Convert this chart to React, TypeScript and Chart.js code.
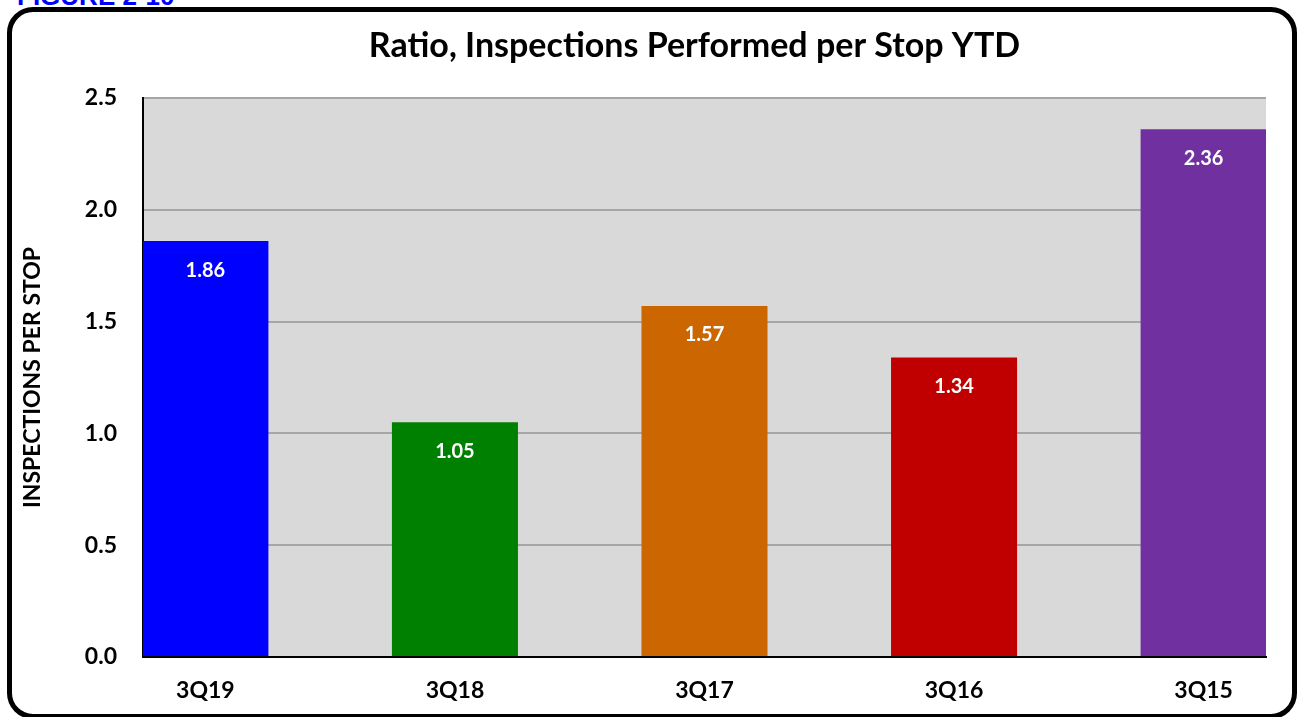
import React, { useEffect, useRef } from "react";
import { Chart, registerables } from "chart.js";

Chart.register(...registerables);

const categories = ["3Q19", "3Q18", "3Q17", "3Q16", "3Q15"];
const values = [1.86, 1.05, 1.57, 1.34, 2.36];
const barColors = ["#0000FF", "#008000", "#CC6600", "#C00000", "#7030A0"];
const yTickValues = [0, 0.5, 1.0, 1.5, 2.0, 2.5];
const chartTitle = "Ratio, Inspections Performed per Stop YTD";
const yAxisTitle = "INSPECTIONS PER STOP";
const figureLabel = "FIGURE 2-10";

const FONT = "Lato, 'Open Sans', sans-serif";

const plotBackground = {
  id: "plotBackground",
  beforeDraw(chart: any) {
    const { ctx, chartArea } = chart;
    ctx.save();
    ctx.fillStyle = "#D9D9D9";
    ctx.fillRect(chartArea.left, chartArea.top, chartArea.right - chartArea.left, chartArea.bottom - chartArea.top);
    ctx.restore();
  },
};

const chartTitlePlugin = {
  id: "chartTitlePlugin",
  afterDraw(chart: any) {
    const { ctx, chartArea } = chart;
    ctx.save();
    ctx.fillStyle = "#000000";
    ctx.font = `bold 34px ${FONT}`;
    ctx.textAlign = "center";
    ctx.textBaseline = "middle";
    ctx.fillText(chartTitle, (chartArea.left + chartArea.right) / 2 - 10, 46);
    ctx.restore();
  },
};

const barValueLabels = {
  id: "barValueLabels",
  afterDatasetsDraw(chart: any) {
    const { ctx } = chart;
    const meta = chart.getDatasetMeta(0);
    ctx.save();
    ctx.fillStyle = "#FFFFFF";
    ctx.font = `bold 20px ${FONT}`;
    ctx.textAlign = "center";
    ctx.textBaseline = "middle";
    meta.data.forEach((bar: any, i: number) => {
      ctx.fillText(values[i].toFixed(2), bar.x, bar.y + 29);
    });
    ctx.restore();
  },
};

export default function App() {
  const canvasRef = useRef<HTMLCanvasElement | null>(null);

  useEffect(() => {
    if (!canvasRef.current) return;
    const chart = new Chart(canvasRef.current, {
      type: "bar",
      data: {
        datasets: [
          {
            data: values.map((v, i) => ({ x: i, y: v })),
            backgroundColor: barColors,
            borderWidth: 0,
            barPercentage: 0.505,
            categoryPercentage: 1,
          },
        ],
      },
      options: {
        animation: false,
        responsive: false,
        layout: { padding: { left: 0, right: 33, top: 98, bottom: 0 } },
        plugins: {
          legend: { display: false },
          tooltip: { enabled: false },
          title: { display: false },
        },
        scales: {
          x: {
            type: "linear",
            offset: false,
            min: -0.25,
            max: 4.25,
            afterBuildTicks(scale: any) {
              scale.ticks = categories.map((_, i) => ({ value: i }));
            },
            afterFit(scale: any) {
              scale.height = 60;
            },
            grid: { display: false, drawTicks: false, offset: false },
            border: { display: true, color: "#000000", width: 2 },
            ticks: {
              autoSkip: false,
              maxRotation: 0,
              padding: 20,
              color: "#000000",
              font: { family: FONT, size: 23, weight: "bold" },
              callback: (v: any) => categories[v as number] ?? "",
            },
          },
          y: {
            min: 0,
            max: 2.5,
            afterBuildTicks(scale: any) {
              scale.ticks = yTickValues.map((v) => ({ value: v }));
            },
            afterFit(scale: any) {
              scale.width = 143;
            },
            grid: { color: "#A6A6A6", lineWidth: 2, drawTicks: false },
            border: { display: true, color: "#000000", width: 2 },
            ticks: {
              padding: 26,
              color: "#000000",
              font: { family: FONT, size: 23, weight: "bold" },
              callback: (v: any) => Number(v).toFixed(1),
            },
            title: {
              display: true,
              text: yAxisTitle,
              color: "#000000",
              font: { family: FONT, size: 23, weight: "bold" },
              padding: { top: 19, bottom: 0 },
            },
          },
        },
      },
      plugins: [plotBackground, barValueLabels, chartTitlePlugin],
    } as any);
    return () => chart.destroy();
  }, []);

  return (
    <div style={{ position: "absolute", left: 0, top: 0, width: 1299, height: 717, overflow: "hidden", background: "#FFFFFF" }}>
      <div
        style={{
          position: "absolute",
          left: 17,
          top: -17,
          fontFamily: "'Liberation Sans', Arial, sans-serif",
          fontWeight: "bold",
          fontSize: 26,
          lineHeight: "26px",
          color: "#0000FF",
          whiteSpace: "nowrap",
        }}
      >
        {figureLabel}
      </div>
      <div
        style={{
          position: "absolute",
          left: 7,
          top: 7,
          width: 1290,
          height: 712,
          boxSizing: "border-box",
          border: "5px solid #000000",
          borderRadius: 26,
        }}
      />
      <canvas ref={canvasRef} width={1299} height={717} style={{ position: "absolute", left: 0, top: 0 }} />
    </div>
  );
}
